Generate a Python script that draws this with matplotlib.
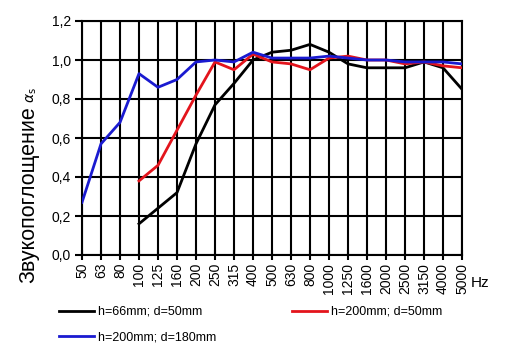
import matplotlib
matplotlib.use("Agg")
import matplotlib.pyplot as plt
import numpy as np

plt.rcParams['font.family'] = ['Liberation Sans', 'DejaVu Sans']

freqs = ["50", "63", "80", "100", "125", "160", "200", "250", "315", "400", "500",
         "630", "800", "1000", "1250", "1600", "2000", "2500", "3150", "4000", "5000"]

# h=66mm; d=50mm (starts at 100 Hz)
black_vals = [None, None, None, 0.16, 0.24, 0.32, 0.57, 0.77, 0.88, 1.00, 1.04,
              1.05, 1.08, 1.04, 0.98, 0.96, 0.96, 0.96, 0.99, 0.96, 0.85]
# h=200mm; d=50mm (starts at 100 Hz)
red_vals = [None, None, None, 0.38, 0.46, 0.64, 0.82, 0.99, 0.95, 1.03, 0.99,
            0.98, 0.95, 1.01, 1.02, 1.00, 1.00, 0.98, 0.99, 0.97, 0.96]
# h=200mm; d=180mm
blue_vals = [0.27, 0.57, 0.68, 0.93, 0.86, 0.90, 0.99, 1.00, 0.99, 1.04, 1.01,
             1.01, 1.01, 1.02, 1.01, 1.00, 1.00, 0.99, 0.99, 0.99, 0.98]

labels = ["h=66mm; d=50mm", "h=200mm; d=50mm", "h=200mm; d=180mm"]
y_ticks = [0.0, 0.2, 0.4, 0.6, 0.8, 1.0, 1.2]

W, H = 509, 363
fig = plt.figure(figsize=(W/100, H/100), dpi=100)
ax = fig.add_axes([82/W, 1-255/H, 380/W, 234/H])

x = np.arange(len(freqs))

def to_arr(v):
    return np.array([np.nan if a is None else a for a in v], dtype=float)

l1, = ax.plot(x, to_arr(black_vals), color='black', lw=2.0, zorder=3)
l2, = ax.plot(x, to_arr(red_vals), color='#e3141c', lw=2.0, zorder=4)
l3, = ax.plot(x, to_arr(blue_vals), color='#1a1ad0', lw=2.0, zorder=5)

ax.set_xlim(0, len(freqs)-1)
ax.set_ylim(0, 1.2)
ax.set_xticks(x)
ax.set_xticklabels(freqs, rotation=90, fontsize=10)
ax.set_yticks(y_ticks)
ax.set_yticklabels([f"{t:.1f}".replace('.', ',') for t in y_ticks], fontsize=10)
ax.grid(True, color='black', lw=1.5)
ax.set_axisbelow(True)
for s in ax.spines.values():
    s.set_linewidth(1.5)
ax.tick_params(axis='x', direction='inout', length=7, width=1.5, pad=2)
ax.tick_params(axis='y', direction='out', length=5, width=1.5, pad=3)

ylab = fig.text(29/W, 1-283/H, "Звукопоглощение", rotation=90,
                fontsize=15.5, ha='center', va='bottom')
fig.canvas.draw()
bb = ylab.get_window_extent()
fig.text(32/W, (bb.y1 + 3)/H, "$\\alpha_{\\mathrm{s}}$", rotation=90,
         fontsize=10, ha='center', va='bottom')
fig.text(471/W, 1-283/H, "Hz", fontsize=11, ha='left', va='center')

leg = fig.legend([l1, l3, l2], [labels[0], labels[2], labels[1]], ncol=2,
                 loc='upper left', bbox_to_anchor=(59/W, 1-306/H),
                 frameon=False, fontsize=9, handlelength=2.8, handletextpad=0.3,
                 columnspacing=6.1, labelspacing=1.05, borderpad=0, borderaxespad=0)
for h in leg.legend_handles:
    h.set_linewidth(2.0)

fig.savefig("out.png", dpi=100)
